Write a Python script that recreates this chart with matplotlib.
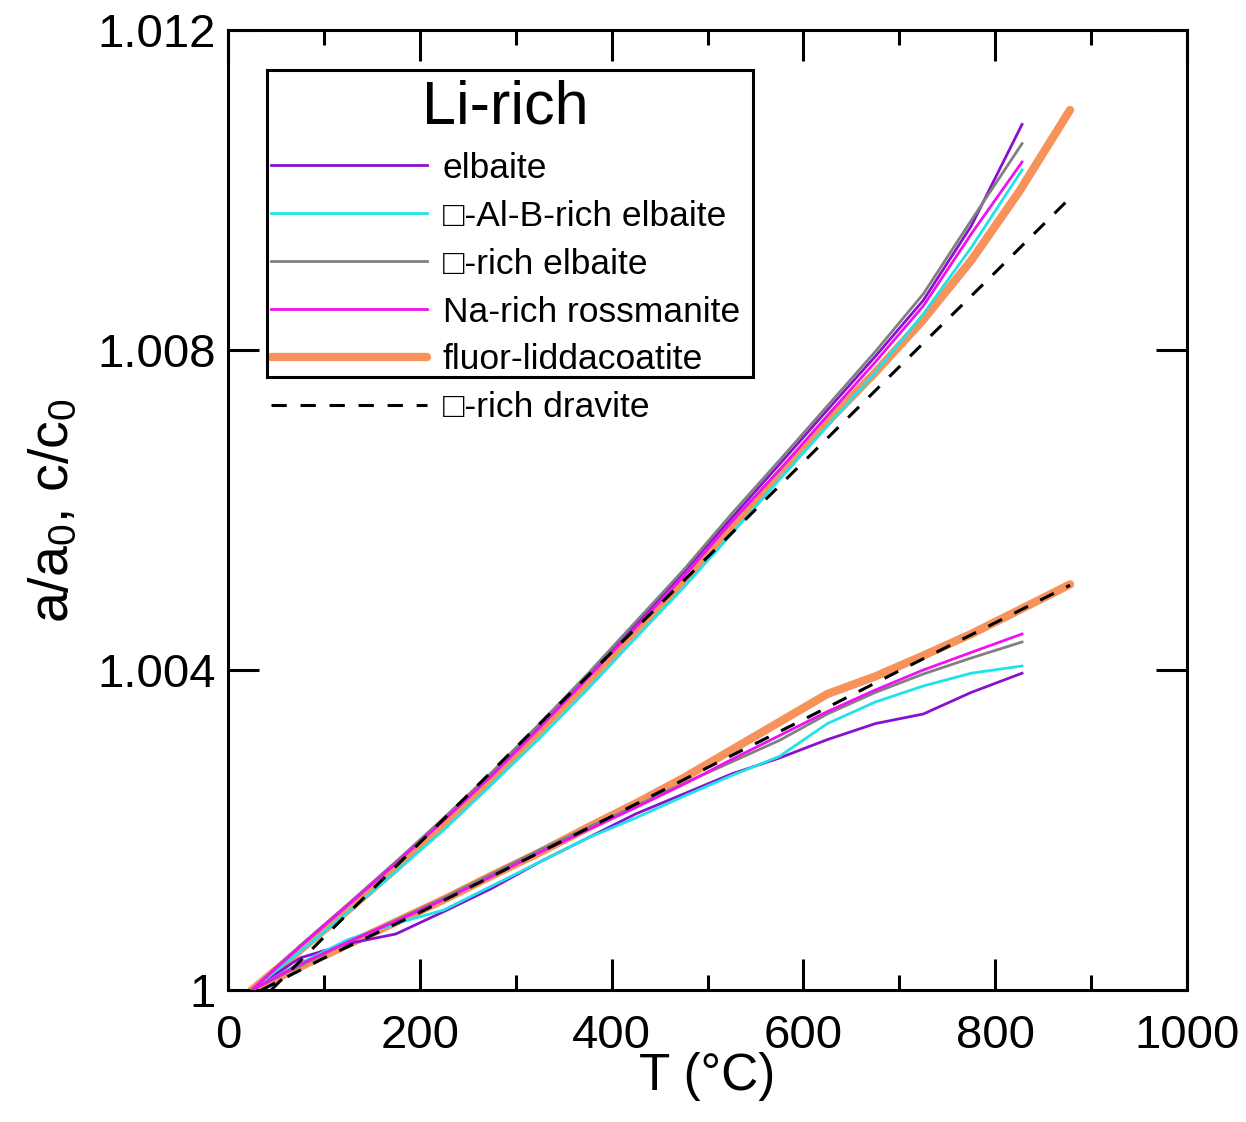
import numpy as np
import matplotlib.pyplot as plt
from matplotlib.patches import Rectangle
from matplotlib.ticker import MultipleLocator

plt.rcParams['font.family'] = ['Liberation Sans', 'DejaVu Sans']
plt.rcParams['mathtext.fontset'] = 'custom'
plt.rcParams['mathtext.rm'] = 'Liberation Sans'
plt.rcParams['mathtext.it'] = 'Liberation Sans'

# temperatures (°C)
T_short = [25, 75, 125, 175, 225, 275, 325, 375, 425, 475, 525, 575, 625, 675, 725, 775, 828]
T_long = [25, 75, 125, 175, 225, 275, 325, 375, 425, 475, 525, 575, 625, 675, 725, 775, 825, 878]
T_drav_c = [45, 100, 200, 300, 400, 500, 600, 700, 800, 878]
T_drav_a = [35, 100, 200, 300, 400, 500, 600, 700, 800, 878]

# c/c0 - 1, in units of 1e-3
elb_c = [0, 0.55, 1.07, 1.6, 2.14, 2.7, 3.3, 3.92, 4.57, 5.22, 5.9, 6.57, 7.25, 7.92, 8.62, 9.55, 10.82]
alb_c = [0, 0.48, 0.97, 1.48, 2.0, 2.57, 3.15, 3.76, 4.4, 5.03, 5.7, 6.38, 7.05, 7.72, 8.45, 9.28, 10.25]
vac_c = [0, 0.55, 1.07, 1.6, 2.15, 2.72, 3.33, 3.95, 4.6, 5.25, 5.95, 6.62, 7.3, 7.98, 8.7, 9.62, 10.58]
ros_c = [0, 0.54, 1.06, 1.58, 2.12, 2.68, 3.28, 3.9, 4.53, 5.17, 5.85, 6.5, 7.18, 7.85, 8.55, 9.45, 10.35]
lid_c = [0, 0.5, 1.0, 1.52, 2.08, 2.65, 3.25, 3.85, 4.5, 5.1, 5.8, 6.45, 7.1, 7.72, 8.38, 9.12, 9.98, 11.0]
drv_c = [0, 0.66, 1.84, 3.03, 4.22, 5.41, 6.6, 7.79, 8.97, 9.9]

# a/a0 - 1, in units of 1e-3
elb_a = [0, 0.4, 0.58, 0.7, 0.98, 1.27, 1.6, 1.9, 2.2, 2.45, 2.7, 2.9, 3.13, 3.33, 3.45, 3.72, 3.96]
alb_a = [0, 0.33, 0.63, 0.83, 1.0, 1.3, 1.6, 1.9, 2.15, 2.42, 2.68, 2.92, 3.33, 3.6, 3.8, 3.96, 4.05]
vac_a = [0, 0.3, 0.6, 0.87, 1.15, 1.45, 1.75, 2.03, 2.3, 2.58, 2.85, 3.12, 3.45, 3.72, 3.95, 4.15, 4.35]
ros_a = [0, 0.32, 0.6, 0.86, 1.13, 1.42, 1.72, 2.0, 2.28, 2.57, 2.88, 3.18, 3.48, 3.75, 4.0, 4.22, 4.45]
lid_a = [0, 0.29, 0.57, 0.85, 1.13, 1.43, 1.72, 2.03, 2.33, 2.65, 3.0, 3.35, 3.7, 3.92, 4.18, 4.45, 4.75, 5.07]
drv_a = [0, 0.4, 0.97, 1.57, 2.17, 2.78, 3.38, 3.99, 4.59, 5.06]

x_ticks = [0, 200, 400, 600, 800, 1000]
y_ticks = [1.0, 1.004, 1.008, 1.012]
y_ticklabels = ['1', '1.004', '1.008', '1.012']


def rel(v):
    return 1 + np.array(v) / 1000.0


fig = plt.figure(figsize=(12.46, 11.22), dpi=100)
ax = fig.add_axes([228 / 1246, 1 - 990 / 1122, 959 / 1246, 960 / 1122])

lw = 2.0
h_lid, = ax.plot(T_long, rel(lid_c), color='#F6925A', lw=6, solid_capstyle='round', zorder=2)
ax.plot(T_long, rel(lid_a), color='#F6925A', lw=6, solid_capstyle='round', zorder=2)
h_elb, = ax.plot(T_short, rel(elb_c), color='#8A10D0', lw=lw, zorder=3)
ax.plot(T_short, rel(elb_a), color='#8A10D0', lw=lw, zorder=3)
h_alb, = ax.plot(T_short, rel(alb_c), color='#1FE3E8', lw=lw, zorder=3)
ax.plot(T_short, rel(alb_a), color='#1FE3E8', lw=lw, zorder=3)
h_vac, = ax.plot(T_short, rel(vac_c), color='#808080', lw=lw, zorder=3)
ax.plot(T_short, rel(vac_a), color='#808080', lw=lw, zorder=3)
h_ros, = ax.plot(T_short, rel(ros_c), color='#F010F0', lw=lw, zorder=3)
ax.plot(T_short, rel(ros_a), color='#F010F0', lw=lw, zorder=3)
h_drv, = ax.plot(T_drav_c, rel(drv_c), color='black', lw=2.2, dashes=(5, 4.5), zorder=4)
ax.plot(T_drav_a, rel(drv_a), color='black', lw=2.2, dashes=(5, 4.5), zorder=4)

ax.set_xlim(0, 1000)
ax.set_ylim(1.0, 1.012)
ax.set_xticks(x_ticks)
ax.set_xticklabels([str(t) for t in x_ticks])
ax.xaxis.set_minor_locator(MultipleLocator(100))
ax.set_yticks(y_ticks)
ax.set_yticklabels(y_ticklabels)

ax.tick_params(which='both', direction='in', top=True, right=True, width=2.2)
ax.tick_params(which='major', length=22, labelsize=34)
ax.tick_params(which='minor', length=11)
ax.tick_params(axis='x', which='major', pad=17)
ax.tick_params(axis='y', which='major', pad=9)
for s in ax.spines.values():
    s.set_linewidth(2.2)

ax.set_xlabel('T (°C)', fontsize=37, labelpad=-4)
ax.set_ylabel(r'a/a$_0$, c/c$_0$', fontsize=40, labelpad=12)

leg = ax.legend([h_elb, h_alb, h_vac, h_ros, h_lid, h_drv],
                ['elbaite', '□-Al-B-rich elbaite', '□-rich elbaite',
                 'Na-rich rossmanite', 'fluor-liddacoatite', '□-rich dravite'],
                title='Li-rich', title_fontsize=44, fontsize=25.5, frameon=False,
                loc='upper left', bbox_to_anchor=(271 / 1246, 1 - 80 / 1122),
                bbox_transform=fig.transFigure, borderpad=0, borderaxespad=0,
                handlelength=4.4, handletextpad=0.45, labelspacing=0.42)
fig.patches.append(Rectangle((267 / 1246, 1 - 377 / 1122), 486 / 1246, 307 / 1122,
                             transform=fig.transFigure, fill=False, lw=2.2,
                             edgecolor='black', zorder=5))

plt.savefig('out.png', dpi=100)
